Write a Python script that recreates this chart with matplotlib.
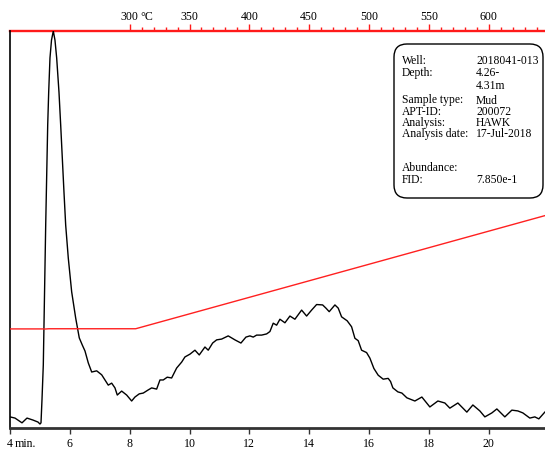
import matplotlib
matplotlib.use("Agg")
import matplotlib.pyplot as plt
from matplotlib.patches import FancyBboxPatch
from matplotlib.ticker import FixedLocator

plt.rcParams['font.family'] = ['Liberation Serif', 'DejaVu Serif']
plt.rcParams['font.size'] = 8.6

# FID signal (time in minutes, relative abundance %)
sig_time = [4.000, 4.167, 4.301, 4.401, 4.568, 4.768, 4.935, 5.002, 5.036, 5.069,
            5.113, 5.136, 5.193, 5.260, 5.293, 5.336, 5.387, 5.447, 5.503, 5.560,
            5.637, 5.694, 5.747, 5.804, 5.861, 5.948, 6.061, 6.195, 6.315, 6.416,
            6.506, 6.616, 6.730, 6.897, 7.064, 7.174, 7.284, 7.398, 7.508, 7.585,
            7.732, 7.899, 8.066, 8.176, 8.320, 8.454, 8.621, 8.734, 8.901, 9.012,
            9.122, 9.255, 9.402, 9.569, 9.737, 9.847, 10.014, 10.181, 10.325, 10.438,
            10.515, 10.625, 10.772, 10.906, 11.073, 11.293, 11.517, 11.718, 11.885, 12.018,
            12.129, 12.242, 12.409, 12.577, 12.687, 12.797, 12.911, 13.021, 13.188, 13.355,
            13.522, 13.746, 13.913, 14.080, 14.247, 14.448, 14.558, 14.668, 14.859, 14.969,
            15.082, 15.269, 15.416, 15.527, 15.637, 15.750, 15.917, 16.028, 16.161, 16.305,
            16.472, 16.639, 16.719, 16.796, 16.963, 17.097, 17.264, 17.531, 17.765, 18.032,
            18.300, 18.533, 18.700, 18.968, 19.268, 19.469, 19.703, 19.870, 20.104, 20.271,
            20.538, 20.772, 20.972, 21.140, 21.373, 21.540, 21.674, 21.874]
sig_value = [2.8, 2.5, 1.8, 1.3, 2.5, 2.0, 1.5, 1.0, 1.3, 7.1,
             15.9, 25.9, 51.1, 76.3, 84.6, 93.2, 97.7, 100.0, 97.7, 93.2,
             84.6, 76.3, 68.0, 59.4, 51.1, 42.8, 34.3, 27.7, 22.7, 20.9,
             19.4, 16.4, 14.1, 14.4, 13.4, 12.1, 10.8, 11.3, 10.1, 8.3,
             9.3, 8.3, 6.8, 7.8, 8.6, 8.8, 9.6, 10.1, 9.8, 12.1,
             12.1, 12.8, 12.6, 15.1, 16.6, 17.9, 18.6, 19.6, 18.4, 19.6,
             20.4, 19.6, 21.4, 22.2, 22.4, 23.2, 22.2, 21.4, 22.9, 23.2,
             22.9, 23.4, 23.4, 23.7, 24.3, 26.4, 25.9, 27.4, 26.5, 28.2,
             27.4, 29.7, 28.2, 29.7, 31.1, 31.0, 30.2, 29.3, 31.0, 30.2,
             28.0, 27.0, 25.5, 22.6, 22.0, 19.6, 19.0, 17.6, 15.0, 13.3,
             12.3, 12.5, 11.7, 10.1, 9.1, 8.8, 7.6, 6.8, 7.8, 5.3,
             6.8, 6.3, 5.0, 6.3, 4.0, 5.8, 4.3, 2.8, 3.8, 4.8,
             2.8, 4.5, 4.3, 3.8, 2.5, 2.8, 2.3, 4.0]

# Oven temperature program (time in minutes, degC)
temp_time = [4.0, 5.10, 5.15, 5.30, 8.20, 21.88]
temp_value = [299.5, 299.5, 299.0, 300.0, 300.0, 642.0]

time_ticks = [4, 6, 8, 10, 12, 14, 16, 18, 20]
temp_major = [300, 350, 400, 450, 500, 550, 600]
temp_minor = [t for t in range(310, 650, 10) if t % 50 != 0]

info_labels = ["Well:", "Depth:", "", "Sample type:", "APT-ID:", "Analysis:",
               "Analysis date:", "", "Abundance:", "FID:"]
info_values = ["2018041-013", "4.26-", "4.31m", "Mud", "200072", "HAWK",
               "17-Jul-2018", "", "", "7.850e-1"]


def t2temp(t):
    return 300 + 25 * (t - 8)


def temp2t(T):
    return 8 + (T - 300) / 25


W, H = 545, 451
fig = plt.figure(figsize=(W / 100, H / 100), dpi=100)
ax = fig.add_axes([10 / W, (H - 428) / H, (W - 10) / W, (428 - 31) / H])

ax.plot(sig_time, sig_value, color='black', lw=1.0, solid_joinstyle='round')
ax.set_xlim(4, 21.88)
ax.set_ylim(0, 100)
ax.set_yticks([])
ax.spines['right'].set_visible(False)
ax.spines['top'].set_visible(False)
ax.spines['left'].set_color('black')
ax.spines['left'].set_linewidth(1.2)
ax.spines['bottom'].set_color('#333333')
ax.spines['bottom'].set_linewidth(2.0)
ax.set_xticks(time_ticks)
ax.set_xticklabels([str(v) for v in time_ticks])
ax.tick_params(axis='x', direction='out', length=4.5, width=1.0, color='#333333',
               pad=3, labelsize=8.6)

# temperature trace on hidden twin axis
ax2 = ax.twinx()
ax2.plot(temp_time, temp_value, color='#ff2020', lw=1.0)
ax2.set_ylim(0, 1200)
ax2.set_xlim(4, 21.88)
ax2.set_yticks([])
for s in ax2.spines.values():
    s.set_visible(False)

# top temperature axis
sec = ax.secondary_xaxis('top', functions=(t2temp, temp2t))
sec.xaxis.set_major_locator(FixedLocator(temp_major))
sec.xaxis.set_minor_locator(FixedLocator(temp_minor))
sec.set_xticklabels([str(v) for v in temp_major])
sec.spines['top'].set_color('#ff1a1a')
sec.spines['top'].set_linewidth(1.7)
sec.tick_params(axis='x', which='major', direction='out', length=5, width=1.0,
                color='#ff1a1a', pad=0.8, labelsize=8.6)
sec.tick_params(axis='x', which='minor', direction='out', length=3, width=1.0,
                color='#ff1a1a')

# unit labels
fig.text(140 / W, 1 - 16.5 / H, "°C", ha='left', va='center', fontsize=8.6)
fig.text(15 / W, 1 - 444 / H, "min.", ha='left', va='center', fontsize=8.6)

# info box
box = FancyBboxPatch((3.94, (H - 198) / 100), 1.49, 1.54,
                     boxstyle="round,pad=0,rounding_size=0.13",
                     transform=fig.dpi_scale_trans, facecolor='white',
                     edgecolor='black', lw=1.0, zorder=5)
fig.patches.append(box)
row_y = [60.5, 73.0, 86.0, 100.5, 111.8, 123.0, 134.3, 146.6, 168.3, 180.5]
for lab, val, y in zip(info_labels, info_values, row_y):
    if lab:
        fig.text(401.5 / W, 1 - y / H, lab, ha='left', va='center', fontsize=8.4, zorder=6)
    if val:
        fig.text(476 / W, 1 - y / H, val, ha='left', va='center', fontsize=8.4, zorder=6)

fig.savefig("out.png", dpi=100)
